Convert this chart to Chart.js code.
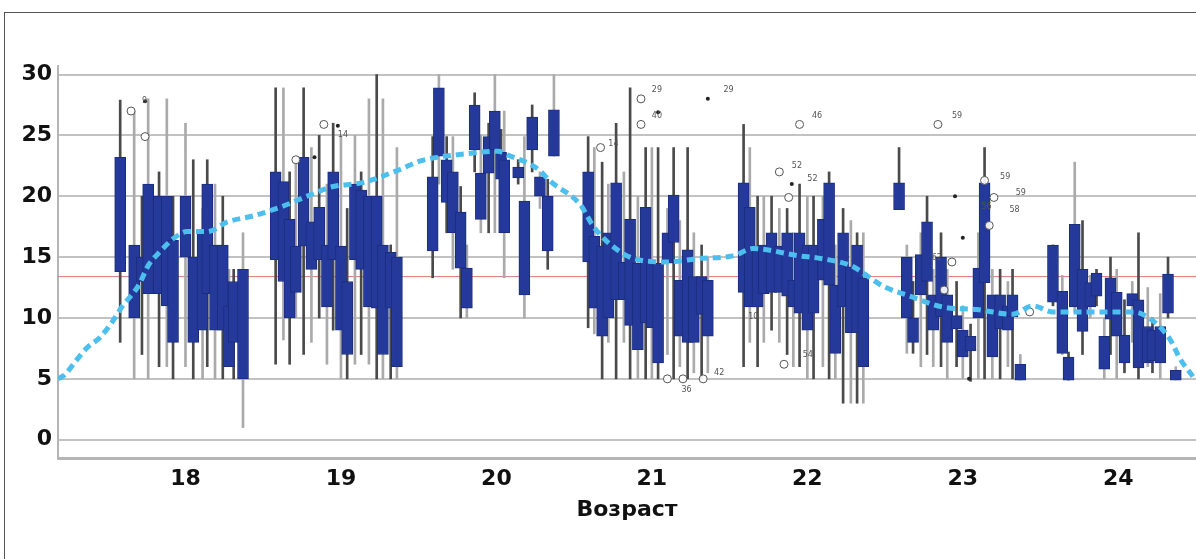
<!DOCTYPE html>
<html>
<head>
<meta charset="utf-8">
<script src="https://cdn.jsdelivr.net/npm/chart.js@4.4.1/dist/chart.umd.min.js"></script>
<style>
  html, body { margin: 0; padding: 0; background: #fff; }
  #wrap { position: relative; width: 1196px; height: 559px; overflow: hidden; }
  #frame { position: absolute; left: 4px; top: 12px; width: 1300px; height: 700px;
           border-left: 1px solid #555; border-top: 1px solid #555; }
  canvas { position: absolute; left: 0; top: 0; }
</style>
</head>
<body>
<div id="wrap">
  <div id="frame"></div>
  <canvas id="chart" width="1196" height="559"></canvas>
</div>
<script>
// box positions (age) and five-number values, group by group 18..24
const boxAge = [
    17.58, 17.67, 17.72, 17.76, 17.83, 17.88, 17.92, 18.00, 18.05, 18.11, 18.14, 18.19, 18.24, 18.28, 18.31, 18.37,
    18.58, 18.63, 18.67, 18.71, 18.76, 18.81, 18.86, 18.91, 18.95, 19.00, 19.04, 19.09, 19.13, 19.18, 19.23, 19.27, 19.32, 19.36,
    19.59, 19.63, 19.68, 19.72, 19.77, 19.81, 19.86, 19.90, 19.95, 19.99, 20.03, 20.05, 20.14, 20.18, 20.23, 20.28, 20.33, 20.37,
    20.59, 20.63, 20.68, 20.72, 20.77, 20.82, 20.86, 20.91, 20.96, 21.00, 21.04, 21.10, 21.14, 21.18, 21.23, 21.27, 21.32, 21.36,
    21.59, 21.63, 21.68, 21.72, 21.77, 21.82, 21.87, 21.91, 21.95, 22.00, 22.04, 22.10, 22.14, 22.18, 22.23, 22.28, 22.32, 22.36,
    22.59, 22.64, 22.68, 22.73, 22.77, 22.81, 22.86, 22.90, 22.96, 23.00, 23.05, 23.10, 23.14, 23.19, 23.24, 23.29, 23.32, 23.37,
    23.58, 23.64, 23.68, 23.72, 23.77, 23.82, 23.86, 23.91, 23.95, 23.99, 24.04, 24.09, 24.13, 24.19, 24.22, 24.27, 24.32, 24.37
];
const whiskerLow = [
    8, 5, 7, 5, 6, 6, 5, 6, 5, 5, 6, 5, 5, 6, 5, 1,
    6.2, 8.2, 6.2, 10, 7, 8, 10, 6.2, 9, 5, 5, 6.2, 7, 6.2, 5, 5, 5, 5,
    13.3, 21, 17, 14, 10, 10, 22, 17, 17, 17, 17, 13.3, 21, 10, 22, 19, 14, 23.3,
    9.2, 8.7, 5, 8, 5, 8, 5, 5, 5, 5, 5, 7, 5, 6, 5, 5.5, 5, 5.5,
    6, 8, 6, 8, 9, 8, 7, 6, 6, 5, 5, 6, 5, 5, 3, 3, 3, 3,
    18.9, 7.1, 7.1, 6, 7, 6, 6, 5, 6, 5, 4.8, 5, 5, 5, 5, 6, 5, 4.9,
    11, 7, 4.9, 10.5, 7, 10, 11, 5, 7, 5, 5.5, 8, 5, 6, 5.5, 5, 10, 4.9
];
const boxQ1 = [
    13.8, 10, 13, 12, 12, 11, 8, 15, 8, 9, 12, 9, 9, 6, 8, 5,
    14.8, 13, 10, 12.1, 15.9, 14, 14.8, 10.9, 14.8, 9, 7, 14.8, 14, 10.9, 10.8, 7, 10.8, 6,
    15.5, 23.3, 19.5, 17, 14.1, 10.8, 23.8, 18.1, 21.9, 23.8, 21.4, 17, 21.5, 11.9, 23.8, 20, 15.5, 23.3,
    14.6, 10.8, 8.5, 10, 11.5, 11.5, 9.4, 7.4, 9.6, 9.2, 6.3, 14.5, 16.2, 8.5, 8, 8, 10.3, 8.5,
    12.1, 10.9, 10.9, 12, 12.1, 12.1, 11.8, 10.9, 10.4, 9, 10.4, 13.1, 12.7, 7.1, 10.9, 8.8, 8.8, 6,
    18.9, 10, 8, 11.9, 13, 9, 10.1, 8, 9.1, 6.8, 7.3, 10, 12.9, 6.8, 9.1, 9, 10.1, 4.9,
    11.3, 7.1, 4.9, 10.9, 8.9, 10.9, 11.8, 5.8, 9.9, 8.5, 6.3, 11, 5.9, 6.3, 6.5, 6.3, 10.4, 4.9
];
const boxQ3 = [
    23.2, 16, 15, 21, 20, 20, 16.4, 20, 15, 17, 21, 16, 16, 11, 13, 14,
    22, 21.2, 18.1, 15.9, 23.2, 17.9, 19.1, 16, 22, 15.9, 13, 21, 20.5, 20, 20, 16, 15.4, 15,
    21.6, 28.9, 23, 22, 18.7, 14.1, 27.5, 21.9, 24.9, 27, 23.6, 23, 22.4, 19.6, 26.5, 21.6, 20, 27.1,
    22, 16.7, 15.9, 17, 21.1, 14.6, 18.1, 14.5, 19.1, 14.5, 14.5, 17, 20.1, 13.1, 15.6, 13.4, 13.4, 13.1,
    21.1, 19.1, 15.9, 16, 17, 15.9, 17, 13.1, 17, 16, 16, 18.1, 21.1, 12.7, 17, 14.2, 16, 13.3,
    21.1, 15, 10, 15.2, 17.9, 11.9, 15, 11.9, 10.2, 9, 8.5, 14.1, 21.1, 11.9, 11.9, 11, 11.9, 6.2,
    16, 12.2, 6.8, 17.7, 14, 12.9, 13.7, 8.5, 13.3, 12.1, 8.6, 12, 11.5, 9.3, 9, 9.3, 13.6, 5.7
];
const whiskerHigh = [
    27.9, 27, 20, 28, 22, 28, 20, 26, 23, 19, 23, 21, 20, 14, 14, 17,
    28.9, 28.9, 22, 23, 28.9, 24, 25, 21, 26, 25, 19, 25, 22, 28, 30, 28, 16, 24,
    24.9, 30, 24.9, 24.9, 20.8, 16, 28.5, 25, 26, 30, 25.5, 27, 23, 24.9, 27.5, 22, 21.4, 30,
    24.9, 24, 22.8, 21, 26, 22, 28.9, 20, 24, 24, 24, 19, 24, 18, 24, 17, 16, 15,
    25.9, 24, 20, 20, 20, 19, 19, 17, 21, 20, 20, 20, 22, 16, 19, 18, 17, 17,
    24, 16, 13, 17, 20, 14, 17, 14, 13, 11, 9.5, 17, 24, 14, 14, 13, 14, 7,
    16, 13.5, 7.2, 22.8, 18, 13.5, 14, 10, 15, 14, 11.5, 13, 17, 12.5, 10, 12, 15, 6
];

// smoothed trend (light blue dotted curve)
const trendAge = [17.18, 17.22, 17.29, 17.37, 17.45, 17.53, 17.59, 17.70, 17.76, 17.84, 17.92, 18.01, 18.14, 18.27,
    18.44, 18.63, 18.80, 18.95, 19.13, 19.38, 19.51, 19.81, 20.01, 20.07, 20.26, 20.35, 20.54, 20.62, 20.71, 20.88,
    21.10, 21.31, 21.52, 21.65, 21.95, 22.08, 22.28, 22.49, 22.66, 22.87, 23.09, 23.32, 23.45, 23.58, 23.88, 24.10,
    24.23, 24.33, 24.40, 24.48];
const trendValue = [5.0, 5.3, 6.4, 7.6, 8.4, 9.7, 10.9, 12.7, 14.3, 15.5, 16.5, 17.1, 17.1, 17.9,
    18.4, 19.2, 20.1, 20.8, 21.1, 22.2, 22.9, 23.5, 23.7, 23.4, 22.3, 21.2, 19.3, 17.6, 16.3, 14.9,
    14.6, 14.9, 15.1, 15.7, 15.1, 14.9, 14.3, 12.6, 11.8, 10.9, 10.7, 10.3, 11.0, 10.5, 10.5, 10.5,
    9.7, 8.3, 6.6, 5.2];

const meanLine = 13.4;

// outliers: hollow circles and filled dots
const outlierAge = [17.65, 17.74, 18.71, 18.89, 20.93, 20.93, 20.67, 21.10, 21.33, 21.20, 21.95, 21.82, 21.88,
    21.85, 22.84, 23.14, 23.20, 23.17, 22.88, 22.93, 23.43];
const outlierValue = [27.0, 24.9, 23.0, 25.9, 28.0, 25.9, 24.0, 5.0, 5.0, 5.0, 25.9, 22.0, 19.9,
    6.2, 25.9, 21.3, 19.9, 17.6, 12.3, 14.6, 10.5];
const extremeAge = [17.74, 18.83, 18.98, 21.04, 21.36, 21.90, 22.95, 23.00, 23.04];
const extremeValue = [27.8, 23.2, 25.8, 26.9, 28.0, 21.0, 20.0, 16.6, 5.0];
const caseLabel = ['9', '14', '29', '40', '14', '36', '42', '46', '52', '52', '59', '59', '59', '58', '56', '62', '29', '54', '10'];
const caseAge = [17.72, 18.98, 21.00, 21.00, 20.72, 21.19, 21.40, 22.03, 21.90, 22.00, 22.93, 23.24, 23.34, 23.30, 23.12, 22.80, 21.46, 21.97, 21.62];
const caseValue = [27.8, 25.0, 28.7, 26.6, 24.3, 4.1, 5.5, 26.6, 22.5, 21.4, 26.6, 21.6, 20.3, 18.9, 19.1, 14.9, 28.7, 7.0, 10.1];

const xTicks = [18, 19, 20, 21, 22, 23, 24];

const whiskers = boxAge.map((a, i) => ({ x: a, y: [whiskerLow[i], whiskerHigh[i]] }));
const boxes = boxAge.map((a, i) => ({ x: a, y: [boxQ1[i], boxQ3[i]] }));

const caseLabels = {
    id: 'caseLabels',
    afterDatasetsDraw(chart) {
        const { ctx, scales: { x, y } } = chart;
        ctx.save();
        ctx.font = '8px "DejaVu Sans", sans-serif';
        ctx.fillStyle = '#555';
        ctx.textBaseline = 'middle';
        caseLabel.forEach((t, i) => {
            ctx.fillText(t, x.getPixelForValue(caseAge[i]), y.getPixelForValue(caseValue[i]));
        });
        ctx.restore();
    }
};

const tickFont = { family: '"DejaVu Sans", sans-serif', size: 22, weight: 'bold' };

const config = {
    type: 'bar',
    data: {
        datasets: [
            {
                type: 'line',
                data: trendAge.map((a, i) => ({ x: a, y: trendValue[i] })),
                borderColor: '#4cbfef',
                borderWidth: 5,
                borderDash: [8, 5],
                cubicInterpolationMode: 'monotone',
                pointRadius: 0,
                fill: false,
                order: 0
            },
            {
                type: 'scatter',
                data: outlierAge.map((a, i) => ({ x: a, y: outlierValue[i] })),
                pointStyle: 'circle',
                pointRadius: 4,
                backgroundColor: 'rgba(255,255,255,0.9)',
                borderColor: '#555',
                borderWidth: 1,
                order: 1
            },
            {
                type: 'scatter',
                data: extremeAge.map((a, i) => ({ x: a, y: extremeValue[i] })),
                pointStyle: 'circle',
                pointRadius: 2,
                backgroundColor: '#222',
                borderWidth: 0,
                order: 1
            },
            {
                data: boxes,
                backgroundColor: '#25399a',
                borderColor: '#1b2d7e',
                borderWidth: 1,
                borderSkipped: false,
                barThickness: 11,
                grouped: false,
                order: 2
            },
            {
                data: whiskers,
                backgroundColor: (c) => (c.dataIndex % 2 ? '#aaaaaa' : '#4a4a4a'),
                barThickness: 2,
                grouped: false,
                order: 3
            },
            {
                type: 'line',
                data: [{ x: 17.18, y: meanLine }, { x: 24.5, y: meanLine }],
                borderColor: '#e07a7a',
                borderWidth: 1,
                pointRadius: 0,
                order: 4
            }
        ]
    },
    options: {
        responsive: false,
        animation: false,
        devicePixelRatio: 1,
        layout: { autoPadding: false, padding: { top: 66, right: 0, bottom: 0, left: 0 } },
        plugins: {
            legend: { display: false },
            tooltip: { enabled: false }
        },
        scales: {
            x: {
                type: 'linear',
                min: 17.18,
                max: 24.5,
                offset: false,
                afterFit: (s) => { s.height = 101; },
                afterBuildTicks: (s) => { s.ticks = xTicks.map(v => ({ value: v })); },
                grid: { display: false, drawTicks: false },
                border: { display: true, color: '#b5b5b5', width: 3 },
                ticks: { font: tickFont, color: '#111', padding: 8, maxRotation: 0 },
                title: {
                    display: true,
                    text: 'Возраст',
                    font: tickFont,
                    color: '#111',
                    padding: { top: 0, bottom: 36 }
                }
            },
            y: {
                min: -1.5,
                max: 30.7,
                afterFit: (s) => { s.width = 58; },
                ticks: { stepSize: 5, includeBounds: false, font: tickFont, color: '#111', padding: 6 },
                grid: { color: '#c2c2c2', lineWidth: 2, drawTicks: false },
                border: { display: true, color: '#b5b5b5', width: 2 }
            }
        }
    },
    plugins: [caseLabels]
};

window.onload = function () {
    const ctx = document.getElementById('chart').getContext('2d');
    new Chart(ctx, config);
};
</script>
</body>
</html>
